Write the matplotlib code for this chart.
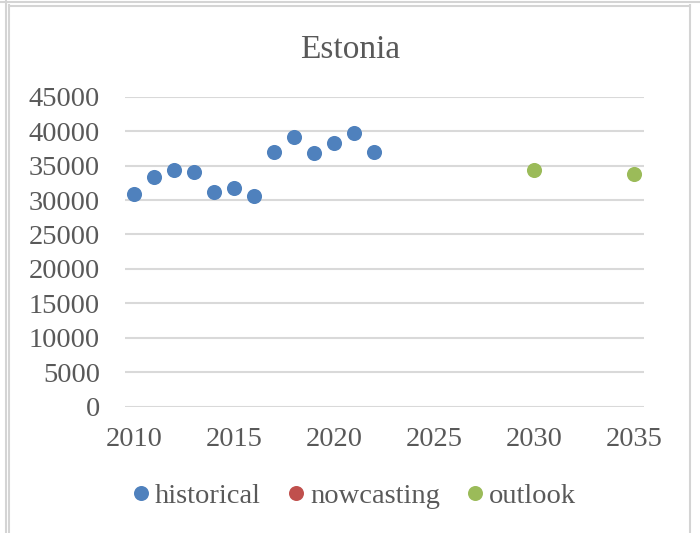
import matplotlib
matplotlib.use("Agg")
import matplotlib.pyplot as plt
from matplotlib.lines import Line2D

hist_years = [2010, 2011, 2012, 2013, 2014, 2015, 2016, 2017, 2018, 2019, 2020, 2021, 2022]
hist_values = [30800, 33300, 34400, 34100, 31100, 31700, 30600, 36900, 39100, 36800, 38300, 39700, 36900]
now_years = []
now_values = []
out_years = [2030, 2035]
out_values = [34300, 33800]
yticks = [0, 5000, 10000, 15000, 20000, 25000, 30000, 35000, 40000, 45000]
xticks = [2010, 2015, 2020, 2025, 2030, 2035]

plt.rcParams['font.family'] = ['Liberation Serif', 'DejaVu Serif']
txt = '#595959'
fs = 20.5

fig = plt.figure(figsize=(7, 5.33), dpi=100)
ax = fig.add_axes([125/700, 1-406.6/533, 519/700, 309.9/533])

ax.scatter(hist_years, hist_values, s=118, color='#4F81BD', zorder=3, label='historical', linewidths=0)
ax.scatter(now_years, now_values, s=118, color='#C0504D', zorder=3, label='nowcasting', linewidths=0)
ax.scatter(out_years, out_values, s=118, color='#9BBB59', zorder=3, label='outlook', linewidths=0)

ax.set_xlim(2009.55, 2035.5)
ax.set_ylim(0, 45000)
ax.set_yticks(yticks)
ax.set_xticks(xticks)
ax.set_yticklabels([str(v) for v in yticks])
ax.set_xticklabels([str(v) for v in xticks])
ax.grid(axis='y', color='#D9D9D9', linewidth=1.5)
ax.set_axisbelow(True)
for s in ax.spines.values():
    s.set_visible(False)
ax.tick_params(length=0, labelsize=fs, colors=txt)
ax.tick_params(axis='y', pad=18)
ax.tick_params(axis='x', pad=15)

fig.text(350/700, 1-57.7/533, 'Estonia', ha='center', va='baseline', fontsize=24, color=txt)

handles = [Line2D([], [], marker='o', linestyle='', markersize=10.8, color=c, markeredgewidth=0)
           for c in ['#4F81BD', '#C0504D', '#9BBB59']]
fig.legend(handles, ['historical', 'nowcasting', 'outlook'], loc='center',
           bbox_to_anchor=(355/700, 1-496/533), ncol=3, frameon=False, fontsize=fs,
           labelcolor=txt, handletextpad=0.25, columnspacing=0.98, handlelength=0.5,
           borderpad=0, borderaxespad=0)

# outer frame lines
lc = '#D4D4D4'
fig.add_artist(Line2D([5.5/700, 5.5/700], [0, 1], color=lc, linewidth=1.5))
fig.add_artist(Line2D([9/700, 9/700], [0, 1 - 5/533], color=lc, linewidth=1.5))
fig.add_artist(Line2D([690/700, 690/700], [0, 1 - 5/533], color=lc, linewidth=1.5))
fig.add_artist(Line2D([0, 1], [1 - 1.7/533, 1 - 1.7/533], color=lc, linewidth=1.5))
fig.add_artist(Line2D([9/700, 690/700], [1 - 5.5/533, 1 - 5.5/533], color=lc, linewidth=1.5))

fig.savefig('out.png', dpi=100)
